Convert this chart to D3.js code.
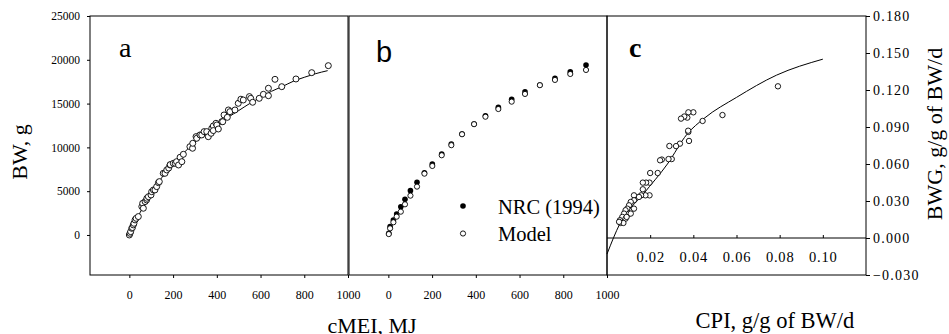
<!DOCTYPE html>
<html>
<head>
<meta charset="utf-8">
<script src="https://cdn.jsdelivr.net/npm/d3@7"></script>
<style>
  body { margin: 0; background: #fff; }
  svg { display: block; }
</style>
</head>
<body>
<svg id="chart" width="949" height="334"></svg>
<script>
// panel a: observed BW vs cumulative ME intake
const cmeiA = [0, 3, 6, 11, 14, 18, 21, 26, 31, 41, 57, 61, 64, 72, 79, 80, 87, 99, 102, 110,
  117, 125, 133, 137, 155, 163, 171, 180, 186, 187, 201, 210, 216, 225, 232, 240, 247, 277, 289, 290,
  305, 308, 323, 331, 342, 354, 361, 374, 377, 384, 384, 396, 400, 407, 423, 427, 433, 448, 453, 460,
  483, 498, 510, 521, 549, 555, 564, 594, 613, 636, 636, 666, 697, 762, 834, 910];
const bwA = [0, 190, 380, 760, 850, 1150, 1330, 1720, 1900, 2100, 3240, 3620, 3050, 3810, 4000, 4190, 4370, 4570, 4940, 5140,
  5140, 5520, 5970, 6090, 7040, 7040, 7420, 7640, 7990, 8030, 8180, 8180, 8370, 7990, 8870, 8370, 9210, 10080, 9900, 10470,
  11230, 11040, 11420, 11420, 11800, 11800, 11220, 11610, 12180, 12450, 11920, 12750, 12560, 12100, 12940, 12930, 13700, 13430, 14270, 14080,
  14270, 15030, 15500, 15410, 15800, 15600, 15150, 15600, 16060, 16750, 15900, 17770, 16930, 17810, 18530, 19330];
const fitXA = [0, 50, 100, 150, 200, 250, 300, 350, 400, 450, 500, 550, 600, 650, 700, 750, 800, 850, 907];
const fitYA = [0, 2600, 4800, 6600, 8100, 9400, 10600, 11600, 12500, 13400, 14200, 15000, 15700, 16400, 16950, 17550, 18000, 18400, 18760];

// panel b: NRC (1994) vs model
const cmeiB = [2, 8, 23, 38, 57, 76, 101, 131, 165, 201, 244, 288, 337, 392, 444, 503, 564, 625, 693, 762, 832, 904];
const nrcB = [200, 950, 1710, 2400, 3230, 4070, 5060, 6010, 7110, 8100, 9250, 10390, 11530, 12670, 13620, 14580, 15490, 16360, 17120, 17890, 18640, 19400];
const modelB = [100, 760, 1450, 2090, 2660, 3500, 4490, 5520, 7000, 7880, 9100, 10250, 11500, 12650, 13500, 14380, 15220, 16100, 17100, 17700, 18380, 18840];
const legendB = ["NRC (1994)", "Model"];

// panel c: BWG vs CPI
const cpiC = [0.0792, 0.0535, 0.0443, 0.040, 0.0377, 0.0372, 0.0358, 0.0343, 0.0377, 0.0376, 0.038, 0.0338, 0.032, 0.0289,
  0.030, 0.0285, 0.0254, 0.0246, 0.0235, 0.020, 0.0197, 0.0181, 0.0166, 0.0166, 0.0197, 0.0178, 0.0158, 0.0148, 0.0125,
  0.0125, 0.011, 0.0125, 0.0102, 0.0094, 0.0086, 0.0079, 0.0102, 0.0071, 0.0086, 0.0060, 0.0063, 0.0076, 0.0056, 0.0091, 0.011];
const bwgC = [0.123, 0.0997, 0.0949, 0.1019, 0.1019, 0.0976, 0.0985, 0.0968, 0.086, 0.087, 0.0787, 0.0765, 0.0745, 0.0746,
  0.064, 0.064, 0.0636, 0.063, 0.0527, 0.0527, 0.0449, 0.0449, 0.0449, 0.0395, 0.0346, 0.0346, 0.0346, 0.0333, 0.0346,
  0.0306, 0.0292, 0.0238, 0.0265, 0.0238, 0.0225, 0.0198, 0.0198, 0.0171, 0.0157, 0.0144, 0.0122, 0.0122, 0.0131, 0.0171, 0.0198];
const fitXC = [0, 0.006, 0.017, 0.028, 0.037, 0.045, 0.06, 0.0785, 0.1];
const fitYC = [-0.013, 0.0117, 0.036, 0.060, 0.084, 0.097, 0.114, 0.132, 0.145];

const bwTicks = [0, 5000, 10000, 15000, 20000, 25000];
const cmeiTicks = [0, 200, 400, 600, 800, 1000];
const cpiTicks = [0.02, 0.04, 0.06, 0.08, 0.10];
const bwgTicks = [-0.03, 0, 0.03, 0.06, 0.09, 0.12, 0.15, 0.18];

const serif = '"Liberation Serif", "Times New Roman", serif';
const sans = '"Liberation Sans", Arial, sans-serif';

const svg = d3.select("#chart");
const plotTop = 16, plotBottom = 275;

const xA = d3.scaleLinear().domain([-180, 1000]).range([90, 348]);
const xB = d3.scaleLinear().domain([-180, 1000]).range([349, 607]);
const yBW = d3.scaleLinear().domain([-4570, 25000]).range([plotBottom, plotTop]);
const xC = d3.scaleLinear().domain([0, 0.12]).range([607, 866]);
const yC = d3.scaleLinear().domain([-0.03, 0.18]).range([plotBottom, plotTop]);

function frame(x0, x1) {
  svg.append("rect")
    .attr("x", x0).attr("y", plotTop)
    .attr("width", x1 - x0).attr("height", plotBottom - plotTop)
    .attr("fill", "none").attr("stroke", "#000").attr("stroke-width", 1);
}
frame(90, 348);
frame(349, 607);
frame(607, 866);

function styleAxis(g, size) {
  g.select(".domain").remove();
  g.selectAll("line").attr("stroke", "#000");
  g.selectAll("text").style("font-family", serif).style("font-size", size + "px").attr("fill", "#000");
}

// panel a axes
svg.append("g").attr("transform", `translate(90,0)`)
  .call(d3.axisLeft(yBW).tickValues(bwTicks).tickSize(3).tickPadding(7).tickFormat(d3.format("d")))
  .call(g => styleAxis(g, 11.5));
svg.append("g").attr("transform", `translate(0,${plotBottom})`)
  .call(d3.axisBottom(xA).tickValues(cmeiTicks).tickSize(3).tickPadding(12).tickFormat(d3.format("d")))
  .call(g => styleAxis(g, 12));
svg.append("g").attr("transform", `translate(0,${plotBottom})`)
  .call(d3.axisBottom(xB).tickValues(cmeiTicks).tickSize(3).tickPadding(12).tickFormat(d3.format("d")))
  .call(g => styleAxis(g, 12));

// panel c axes
svg.append("g").attr("transform", `translate(866,0)`)
  .call(d3.axisRight(yC).tickValues(bwgTicks).tickSize(4).tickPadding(3).tickFormat(d3.format(".3f")))
  .call(g => styleAxis(g, 14))
  .call(g => g.selectAll("text").attr("letter-spacing", 1.2));
svg.append("line")
  .attr("x1", 607).attr("x2", 866)
  .attr("y1", yC(0)).attr("y2", yC(0))
  .attr("stroke", "#000");
svg.append("g").attr("transform", `translate(0,${yC(0)})`)
  .call(d3.axisBottom(xC).tickValues(cpiTicks).tickSize(-3).tickPadding(14).tickFormat(d3.format(".2f")))
  .call(g => styleAxis(g, 14.5))
  .call(g => g.selectAll("text").attr("letter-spacing", 0.8));

// panel a marks
const line = d3.line().curve(d3.curveMonotoneX);
svg.append("path")
  .attr("d", line(fitXA.map((v, i) => [xA(v), yBW(fitYA[i])])))
  .attr("fill", "none").attr("stroke", "#000").attr("stroke-width", 1);
svg.append("g").selectAll("circle")
  .data(cmeiA.map((v, i) => [v, bwA[i]]))
  .join("circle")
  .attr("cx", d => xA(d[0])).attr("cy", d => yBW(d[1])).attr("r", 3)
  .attr("fill", "#fff").attr("stroke", "#000").attr("stroke-width", 0.9);

// panel b marks
svg.append("g").selectAll("circle")
  .data(cmeiB.map((v, i) => [v, nrcB[i]]))
  .join("circle")
  .attr("cx", d => xB(d[0])).attr("cy", d => yBW(d[1])).attr("r", 2.8)
  .attr("fill", "#000");
svg.append("g").selectAll("circle")
  .data(cmeiB.map((v, i) => [v, modelB[i]]))
  .join("circle")
  .attr("cx", d => xB(d[0])).attr("cy", d => yBW(d[1])).attr("r", 2.6)
  .attr("fill", "#fff").attr("stroke", "#000").attr("stroke-width", 0.9);

// legend
const leg = svg.append("g").attr("transform", "translate(463,206)");
leg.append("circle").attr("cx", 0).attr("cy", 0).attr("r", 2.8).attr("fill", "#000");
leg.append("circle").attr("cx", 0).attr("cy", 27.5).attr("r", 2.6)
  .attr("fill", "#fff").attr("stroke", "#000").attr("stroke-width", 0.9);
leg.selectAll("text.lg").data(legendB).join("text")
  .attr("x", 35).attr("y", (d, i) => 7.5 + i * 27)
  .style("font-family", serif).style("font-size", "20.5px").text(d => d);

// panel c marks
svg.append("path")
  .attr("d", line(fitXC.map((v, i) => [xC(v), yC(fitYC[i])])))
  .attr("fill", "none").attr("stroke", "#000").attr("stroke-width", 1);
svg.append("g").selectAll("circle")
  .data(cpiC.map((v, i) => [v, bwgC[i]]))
  .join("circle")
  .attr("cx", d => xC(d[0])).attr("cy", d => yC(d[1])).attr("r", 2.7)
  .attr("fill", "#fff").attr("stroke", "#000").attr("stroke-width", 0.9);

// panel letters
svg.append("text").attr("x", 119).attr("y", 57)
  .style("font-family", serif).style("font-size", "28px").text("a");
svg.append("text").attr("x", 376).attr("y", 61.5)
  .style("font-family", sans).style("font-size", "29px").text("b");
svg.append("text").attr("x", 629).attr("y", 57)
  .style("font-family", serif).style("font-size", "28px").style("font-weight", "bold").text("c");

// axis titles
svg.append("text").attr("transform", "translate(27,152) rotate(-90)")
  .attr("text-anchor", "middle").style("font-family", serif).style("font-size", "22px").text("BW, g");
svg.append("text").attr("x", 372).attr("y", 333)
  .attr("text-anchor", "middle").style("font-family", serif).style("font-size", "22px").text("cMEI, MJ");
svg.append("text").attr("x", 775).attr("y", 328)
  .attr("text-anchor", "middle").style("font-family", serif).style("font-size", "22.5px").text("CPI, g/g of BW/d");
svg.append("text").attr("transform", "translate(942,134) rotate(-90)")
  .attr("text-anchor", "middle").style("font-family", serif).style("font-size", "22px").text("BWG, g/g of BW/d");
</script>
</body>
</html>
